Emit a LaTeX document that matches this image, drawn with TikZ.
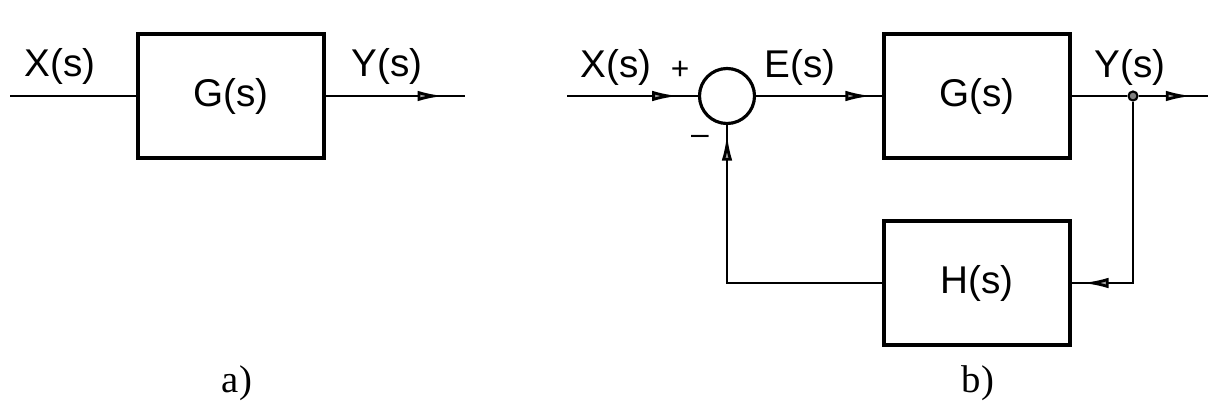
\documentclass[tikz,border=0pt]{standalone}
\usepackage{fontspec}
\setmainfont{Liberation Sans}
\newfontfamily\capfont{Liberation Serif}
\usetikzlibrary{arrows.meta,decorations.markings}
\tikzset{
  blk/.style={draw,line width=0.9pt,minimum width=1.86cm,minimum height=1.24cm,font=\fontsize{11}{13}\selectfont},
  sig/.style={font=\fontsize{11}{13}\selectfont},
  sgn/.style={font=\fontsize{9}{11}\selectfont},
  sumnode/.style={draw,circle,line width=0.9pt,minimum size=0.55cm,inner sep=0pt},
  junc/.style={draw,circle,fill=gray,line width=0.6pt,minimum size=0.09cm,inner sep=0pt},
  wire/.style={line width=0.8pt},
  flow/.style={wire,postaction={decorate},decoration={markings,mark=at position #1 with {\arrow{Latex[length=7.5pt,width=3pt,fill=gray!70]}}}},
  capt/.style={font=\capfont\fontsize{11}{13}\selectfont}
}
\begin{document}
\begin{tikzpicture}[x=0.01cm,y=-0.01cm]
\useasboundingbox (0,0) rectangle (1208,403);
% a)
\coordinate (ain) at (10,96);
\node[blk] (ga) at (231,96) {G(s)};
\coordinate (aout) at (465,96);
\node[sig] (xa) at (60,66) {X(s)};
\node[sig] (ya) at (387,66) {Y(s)};
\draw[wire] (ain) -- (ga);
\draw[flow=-6pt] (ga) -- (aout);
% b)
\coordinate (bin) at (567,96);
\node[sumnode] (sb) at (727,96) {};
\node[blk] (gb) at (977,96) {G(s)};
\node[blk] (hb) at (977,283) {H(s)};
\node[junc] (jb) at (1133,96) {};
\coordinate (bout) at (1208,96);
\node[sig] (xb) at (616,67) {X(s)};
\node[sgn] (pb) at (680,70) {+};
\node[sig] (eb) at (800,67) {E(s)};
\node[sig] (yb) at (1130,67) {Y(s)};
\node[sgn] (mb) at (700,140) {–};
\draw[flow=-5.5pt] (bin) -- (sb);
\draw[flow=-3pt] (sb) -- (gb);
\draw[wire] (gb) -- (jb);
\draw[flow=-4.5pt] (jb) -- (bout);
\draw[flow=-3pt] (jb) |- (hb);
\draw[flow=-2.6pt] (hb) -| (sb);
% captions
\node[capt] (capa) at (237,383) {a)};
\node[capt] (capb) at (978,383) {b)};
\end{tikzpicture}
\end{document}
